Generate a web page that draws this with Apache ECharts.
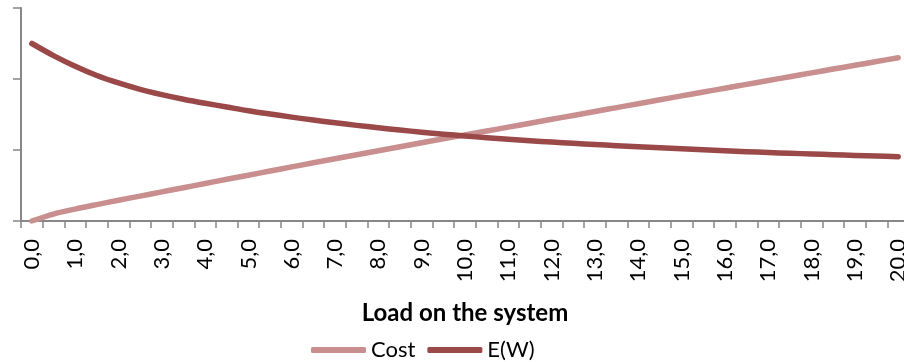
<!DOCTYPE html>
<html>
<head>
<meta charset="utf-8">
<script src="https://cdn.jsdelivr.net/npm/echarts@6/dist/echarts.min.js"></script>
<style>
  html, body { margin: 0; padding: 0; background: #ffffff; }
  #chart { width: 904px; height: 362px; }
</style>
</head>
<body>
<div id="chart"></div>
<script>
// Load on the system, in steps of 0.5
const loads = [
  '0,0', '0,5', '1,0', '1,5', '2,0', '2,5', '3,0', '3,5', '4,0', '4,5',
  '5,0', '5,5', '6,0', '6,5', '7,0', '7,5', '8,0', '8,5', '9,0', '9,5',
  '10,0', '10,5', '11,0', '11,5', '12,0', '12,5', '13,0', '13,5', '14,0', '14,5',
  '15,0', '15,5', '16,0', '16,5', '17,0', '17,5', '18,0', '18,5', '19,0', '19,5',
  '20,0'
];

// Cost: rises almost linearly with load
const cost = [
  0.000, 0.098, 0.168, 0.231, 0.292, 0.351, 0.410, 0.469, 0.528, 0.587,
  0.645, 0.704, 0.762, 0.820, 0.877, 0.934, 0.990, 1.046, 1.102, 1.157,
  1.212, 1.267, 1.322, 1.377, 1.432, 1.487, 1.542, 1.597, 1.652, 1.707,
  1.762, 1.816, 1.870, 1.924, 1.978, 2.032, 2.086, 2.140, 2.193, 2.246,
  2.300
];

// E(W): expected waiting, falls off as load grows
const ew = [
  2.500, 2.330, 2.180, 2.050, 1.945, 1.855, 1.780, 1.715, 1.658, 1.606,
  1.553, 1.507, 1.463, 1.422, 1.383, 1.347, 1.313, 1.281, 1.251, 1.223,
  1.197, 1.173, 1.151, 1.131, 1.112, 1.094, 1.077, 1.061, 1.045, 1.030,
  1.016, 1.002, 0.989, 0.976, 0.965, 0.954, 0.944, 0.934, 0.924, 0.915,
  0.906
];

const FONT = 'Lato';
const AXIS_GREY = '#878787';
const COST_COLOR = '#C98F8E';
const EW_COLOR = '#9A4948';

const chart = echarts.init(document.getElementById('chart'), null, { renderer: 'canvas' });

chart.setOption({
  animation: false,
  textStyle: { fontFamily: FONT },
  grid: {
    left: 21,
    top: 8,
    height: 213,
    right: -5,
    containLabel: false,
    outerBoundsMode: 'none'
  },
  legend: {
    left: 306,
    top: 334,
    icon: 'roundRect',
    itemWidth: 55,
    itemHeight: 6,
    itemGap: 12,
    textStyle: { fontFamily: FONT, fontSize: 22, color: '#000000' },
    data: ['Cost', 'E(W)']
  },
  xAxis: {
    type: 'category',
    data: loads,
    boundaryGap: true,
    name: 'Load on the system',
    nameLocation: 'middle',
    nameGap: 80,
    nameTextStyle: { fontFamily: FONT, fontSize: 24, fontWeight: 'bold', color: '#000000' },
    axisLine: { show: true, lineStyle: { color: AXIS_GREY, width: 2 } },
    axisTick: { show: true, interval: 0, length: 7, lineStyle: { color: AXIS_GREY, width: 1.5 } },
    axisLabel: {
      interval: 1,
      rotate: 90,
      margin: 18,
      fontFamily: FONT,
      fontSize: 22,
      color: '#000000'
    },
    splitLine: { show: false }
  },
  yAxis: {
    type: 'value',
    min: 0,
    max: 3,
    interval: 1,
    axisLine: { show: true, lineStyle: { color: AXIS_GREY, width: 2 } },
    axisTick: { show: true, length: 8, lineStyle: { color: AXIS_GREY, width: 1.5 } },
    axisLabel: { show: false },
    splitLine: { show: false }
  },
  series: [
    {
      name: 'Cost',
      type: 'line',
      data: cost,
      showSymbol: false,
      symbol: 'none',
      smooth: 0.3,
      itemStyle: { color: COST_COLOR },
      lineStyle: { color: COST_COLOR, width: 5.5, cap: 'round', join: 'round' }
    },
    {
      name: 'E(W)',
      type: 'line',
      data: ew,
      showSymbol: false,
      symbol: 'none',
      smooth: 0.3,
      itemStyle: { color: EW_COLOR },
      lineStyle: { color: EW_COLOR, width: 5.5, cap: 'round', join: 'round' }
    }
  ]
});
</script>
</body>
</html>
